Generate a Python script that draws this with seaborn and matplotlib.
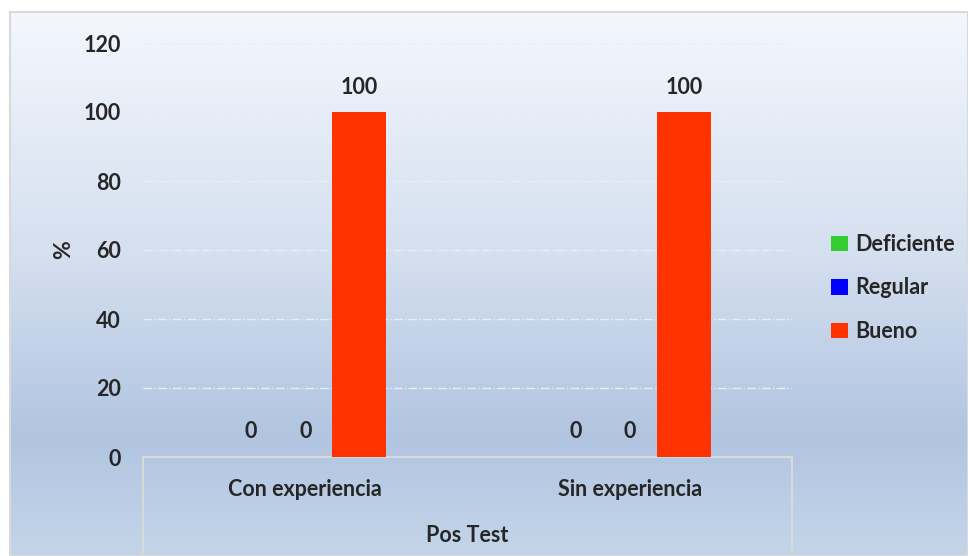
import matplotlib
matplotlib.use("Agg")
import matplotlib.pyplot as plt
import numpy as np
import pandas as pd
import seaborn as sns
from matplotlib.colors import LinearSegmentedColormap
from matplotlib.patches import Rectangle

categories = ["Con experiencia", "Sin experiencia"]
levels = ["Deficiente", "Regular", "Bueno"]
values = {
    "Deficiente": [0, 0],
    "Regular": [0, 0],
    "Bueno": [100, 100],
}
group_label = "Pos Test"
y_ticks = [0, 20, 40, 60, 80, 100, 120]
colors = ["#33cc33", "#0000ff", "#ff3300"]

rows = []
for lvl in levels:
    for cat, v in zip(categories, values[lvl]):
        rows.append({"categoria": cat, "nivel": lvl, "valor": v})
df = pd.DataFrame(rows)

sns.set_theme(style="white")
plt.rcParams["font.family"] = ["Lato", "DejaVu Sans"]
plt.rcParams["font.weight"] = "bold"
FS = 15.5

W, H = 968, 556
fig = plt.figure(figsize=(W / 100, H / 100), dpi=100)

# gradient background with light border
bg = fig.add_axes([10 / W, 0, 1 - 10 / W, 1 - 12 / H], zorder=-10)
cmap = LinearSegmentedColormap.from_list(
    "bg", [(0, "#f4f7fd"), (0.45, "#d4dfef"), (0.78, "#b1c5e1"), (1, "#c4d5e9")])
grad = np.linspace(0, 1, 256).reshape(-1, 1)
bg.imshow(grad, aspect="auto", cmap=cmap, extent=[0, 1, 1, 0])
bg.set_xlim(0, 1)
bg.set_ylim(1, 0)
bg.axis("off")
fig.patches.append(Rectangle((10 / W, 0), 1 - 10 / W, 1 - 12 / H, transform=fig.transFigure,
                             fill=False, edgecolor="#d9d9d9", lw=1.5))

x0, x1 = 143, 792
y_top, y_bot = 43, 457
ax = fig.add_axes([x0 / W, 1 - y_bot / H, (x1 - x0) / W, (y_bot - y_top) / H])
ax.patch.set_alpha(0)

sns.barplot(data=df, x="categoria", y="valor", hue="nivel", hue_order=levels,
            palette=colors, width=0.5, saturation=1, linewidth=0,
            ax=ax, legend=True, zorder=3)

ax.set_xlim(-0.5, len(categories) - 0.5)
ax.set_ylim(0, 120)
ax.set_yticks(y_ticks)
ax.set_yticklabels([str(t) for t in y_ticks], fontsize=FS, fontweight="bold")
ax.tick_params(axis="y", length=0, pad=16)
ax.set_xticks([])
ax.set_xlabel("")
ax.set_ylabel("%", fontsize=FS + 1, fontweight="bold", labelpad=7)
ax.yaxis.grid(True, color="#e8eef7", linestyle="-.", lw=1.0)
ax.set_axisbelow(True)
for s in ["top", "right", "left"]:
    ax.spines[s].set_visible(False)
ax.spines["bottom"].set_color("#d9d9d9")
ax.spines["bottom"].set_linewidth(1.5)

# data labels
for cont in ax.containers:
    for bar in cont:
        h = bar.get_height()
        ax.annotate(f"{h:.0f}", (bar.get_x() + bar.get_width() / 2, h),
                    xytext=(0, 18), textcoords="offset points",
                    ha="center", va="center", fontsize=FS, fontweight="bold")

# category table below axis
tr = ax.get_xaxis_transform()
for i, cat in enumerate(categories):
    ax.text(i, -32 / (y_bot - y_top), cat, transform=tr, ha="center", va="center",
            fontsize=FS, fontweight="bold")
ax.text(0.5, -78 / (y_bot - y_top), group_label, transform=ax.transAxes,
        ha="center", va="center", fontsize=FS, fontweight="bold")
for xa in [0, 1]:
    ax.plot([xa, xa], [0, -96 / (y_bot - y_top)], transform=ax.transAxes,
            color="#d9d9d9", lw=1.5, clip_on=False)

leg = ax.legend(loc="center left", bbox_to_anchor=((812 - x0) / (x1 - x0), (y_bot - 288) / (y_bot - y_top)),
                frameon=False, handlelength=0.75, handleheight=0.75,
                handletextpad=0.35, labelspacing=1.05, prop={"size": FS, "weight": "bold"})

fig.savefig("out.png", dpi=100)
